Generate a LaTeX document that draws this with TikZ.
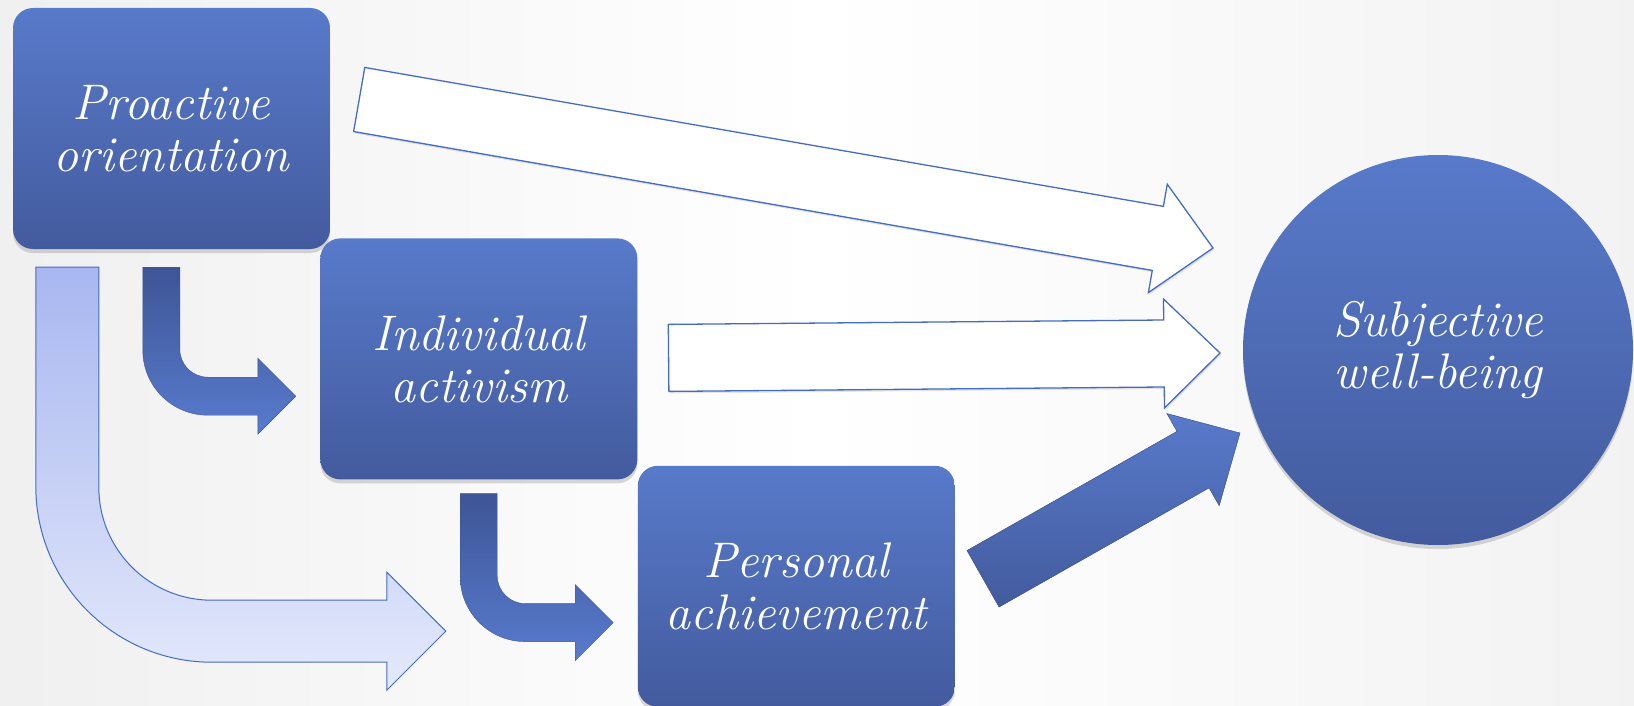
\documentclass[tikz,border=0pt]{standalone}
\usepackage{fontspec}
\usepackage{tikz}
\usetikzlibrary{positioning}
\usetikzlibrary{calc}
\usetikzlibrary{shadows}

\definecolor{boxtop}{RGB}{88,122,202}
\definecolor{boxbot}{RGB}{67,91,158}
\definecolor{edgeblue}{RGB}{68,108,194}
\definecolor{lighttop}{RGB}{168,183,240}
\definecolor{lightbot}{RGB}{228,233,251}
\definecolor{darktop}{RGB}{62,85,150}
\definecolor{darkbot}{RGB}{88,123,206}

% straight block arrow: style, tail, tip, half shaft, half head, head length
\newcommand{\blockarrow}[6]{%
  \coordinate (#2-head) at ($(#3)!#6!(#2)$);
  \draw[#1] ($(#2)!#4!90:(#3)$) -- ($(#2-head)!#4!90:(#3)$) -- ($(#2-head)!#5!90:(#3)$) -- (#3)
    -- ($(#2-head)!#5!-90:(#3)$) -- ($(#2-head)!#4!-90:(#3)$) -- ($(#2)!#4!-90:(#3)$) -- cycle;
}

\begin{document}
\begin{tikzpicture}[x=1pt, y=-1pt,
  box/.style={rounded corners=20pt, minimum width=317pt, minimum height=241pt, inner sep=0pt,
    align=center, text=white, top color=boxtop, bottom color=boxbot,
    font=\fontsize{50}{52}\selectfont\itshape\addfontfeatures{FakeBold=4},
    drop shadow={shadow xshift=0pt, shadow yshift=-4pt, opacity=0.3}},
  goal/.style={circle, minimum size=390pt, inner sep=0pt, align=center, text=white,
    top color=boxtop, bottom color=boxbot,
    font=\fontsize{50}{52}\selectfont\itshape\addfontfeatures{FakeBold=4},
    drop shadow={shadow xshift=0pt, shadow yshift=-4pt, opacity=0.3}},
  hollow/.style={draw=edgeblue, line width=1.3pt, fill=white,
    drop shadow={shadow xshift=1pt, shadow yshift=-2pt, opacity=0.2}},
  solid/.style={top color=boxtop, bottom color=boxbot, draw=boxbot!80!black, line width=0.4pt},
  darkbend/.style={top color=darktop, bottom color=darkbot, draw=darktop, line width=0.4pt},
  lightbend/.style={top color=lighttop, bottom color=lightbot, draw=edgeblue, line width=1pt},
  pics/elbow/.style={code={
    \draw[darkbend] (0,0) -- (37,0) -- (37,82) arc[start angle=180, end angle=90, radius=28]
      -- (115,110) -- (115,91) -- (153,129) -- (115,167) -- (115,148) -- (65,148)
      arc[start angle=90, end angle=180, radius=65] -- cycle;
  }}]

\useasboundingbox (0,0) rectangle (1634,706);
\fill[left color=black!6, right color=black!5, middle color=white] (0,0) rectangle (1634,706);

% Boxes
\node [box] (po) at (171.5,128.5) {Proactive\\orientation};
\node [box, below right=-11pt and -10pt of po] (ia) {Individual\\activism};
\node [box, below right=-14pt and 0pt of ia] (pa) {Personal\\achievement};
\node [goal] (swb) at (1438,350) {Subjective\\well-being};

% Arrow ends
\coordinate (po-out) at ($(po.east)+(29,-29)$);
\coordinate (po-in) at ($(swb.center)+(-225,-102)$);
\coordinate (ia-out) at ($(ia.east)+(31,-1)$);
\coordinate (ia-in) at ($(swb.center)+(-218,3)$);
\coordinate (pa-out) at ($(pa.east)+(28,-7.5)$);
\coordinate (pa-in) at ($(swb.center)+(-198,83)$);

% Straight arrows
\blockarrow{hollow}{po-out}{po-in}{32.5pt}{55pt}{56pt}
\blockarrow{hollow}{ia-out}{ia-in}{33.5pt}{54.5pt}{56pt}
\blockarrow{solid}{pa-out}{pa-in}{32.5pt}{53pt}{54pt}

% Bent arrows
\draw[lightbend] ($(po.south west)+(23,18)$) -- ++(63,0) -- ++(0,220)
  arc[start angle=180, end angle=90, radius=113] -- ++(175,0) -- ++(0,-28) -- ++(59,59)
  -- ++(-59,59) -- ++(0,-28) -- ++(-175,0) arc[start angle=90, end angle=180, radius=176] -- cycle;
\pic at ($(po.south west)+(130,18)$) {elbow};
\pic at ($(ia.south west)+(140,14)$) {elbow};

\end{tikzpicture}
\end{document}
